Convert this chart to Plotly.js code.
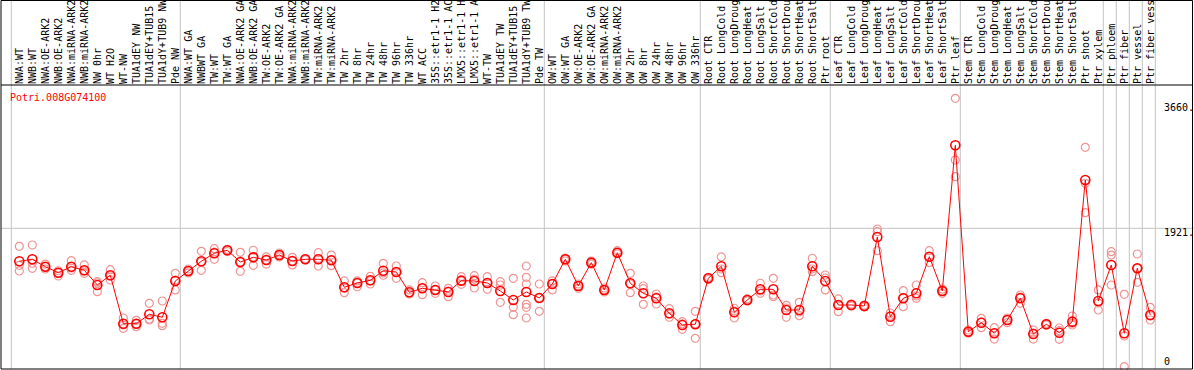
<!DOCTYPE html>
<html>
<head>
<meta charset="utf-8">
<script src="https://cdn.plot.ly/plotly-3.0.1.min.js"></script>
<style>
html,body{margin:0;padding:0;background:#fff;}
#chart{width:1194px;height:370px;}
</style>
</head>
<body>
<div id="chart"></div>
<script>
// ---- data ----
const geneName = "Potri.008G074100";
const categories = [
  "NWA:WT","NWB:WT","NWA:OE-ARK2","NWB:OE-ARK2","NWA:miRNA-ARK2","NWB:miRNA-ARK2","NW 0hr","WT H2O","WT-NW","TUA1dEY NW","TUA1dEY+TUB15","TUA1dY+TUB9 NW","Pde NW",
  "NWA:WT GA","NWBWT GA","TW:WT","TW:WT GA","NWA:OE-ARK2 GA","NWB:OE-ARK2 GA","TW:OE-ARK2","TW:OE-ARK2 GA","NWA:miRNA-ARK2","NWB:miRNA-ARK2","TW:miRNA-ARK2","TW:miRNA-ARK2",
  "TW 2hr","TW 8hr","TW 24hr","TW 48hr","TW 96hr","TW 336hr","WT ACC","35S::etr1-1 H2","35S::etr1-1 AC","LMX5::etr1-1 H","LMX5::etr1-1 A","WT-TW","TUA1dEY TW","TUA1dEY+TUB15","TUA1dY+TUB9 TW","Pde TW",
  "OW:WT","OW:WT GA","OW:OE-ARK2","OW:OE-ARK2 GA","OW:miRNA-ARK2","OW:miRNA-ARK2","OW 2hr","OW 8hr","OW 24hr","OW 48hr","OW 96hr","OW 336hr",
  "Root CTR","Root LongCold","Root LongDroug","Root LongHeat","Root LongSalt","Root ShortCold","Root ShortDrou","Root ShortHeat","Root ShortSalt","Ptr root",
  "Leaf CTR","Leaf LongCold","Leaf LongDroug","Leaf LongHeat","Leaf LongSalt","Leaf ShortCold","Leaf ShortDrou","Leaf ShortHeat","Leaf ShortSalt","Ptr leaf",
  "Stem CTR","Stem LongCold","Stem LongDroug","Stem LongHeat","Stem LongSalt","Stem ShortCold","Stem ShortDrou","Stem ShortHeat","Stem ShortSalt","Ptr shoot",
  "Ptr xylem","Ptr phloem","Ptr fiber","Ptr vessel","Ptr fiber vess"
];
const meanValues = [
  1463,1491,1388,1305,1388,1338,1134,1269,597,597,727,686,1190,
  1328,1463,1574,1616,1453,1518,1481,1550,1467,1491,1491,1477,
  1102,1162,1199,1332,1314,1033,1088,1065,1037,1194,1190,1162,1051,926,1037,954,
  1148,1491,1120,1444,1065,1582,1158,1019,949,741,579,589,
  1227,1394,755,926,1074,1074,787,787,1394,1190,
  856,856,843,1800,694,949,1019,1527,1051,3073,
  486,611,464,648,949,454,589,472,625,2591,
  912,1412,464,1366,718
];
const replicateValues = [
  [1671,1407,1328],[1689,1366,1435],[1425,1356,1388],[1332,1259,1301],[1471,1338,1370],[1412,1296,1328],[1180,1041,1162],[1346,1203,1259],[676,533,579],[644,555,593],[880,648,662],[912,602,569],[1296,1065,1203],
  [1356,1301,1328],[1602,1338,1453],[1638,1491,1592],[1630,1599,1620],[1588,1324,1453],[1616,1407,1523],[1523,1425,1481],[1578,1523,1550],[1518,1412,1467],[1491,1496,1486],[1582,1398,1500],[1550,1402,1481],
  [1190,1027,1092],[1190,1110,1162],[1255,1148,1190],[1435,1269,1301],[1398,1227,1314],[1065,1009,1023],[1166,999,1092],[1120,1019,1065],[1088,972,1051],[1249,1144,1190],[1263,1092,1217],[1249,1074,1162],[1180,1134,894],[1227,824,722],[1398,1241,1148,866,824,676],[1148,769,954],
  [1190,1065,1148],[1491,1509,1467],[1088,1120,1148],[1444,1467,1425],[1065,1092,1037],[1610,1578,1564],[1296,1027,1148],[1120,1083,866],[1009,870,967],[805,686,731],[625,519,593],[769,394,593],
  [1241,1210,1231],[1523,1305,1356],[811,676,773],[940,912,926],[1158,1019,1051],[1227,995,972],[852,686,815],[894,708,759],[1505,1319,1356],[1273,1065,1231],
  [940,763,856],[856,843,870],[843,856,829],[1911,1874,1610],[625,704,745],[1055,833,954],[1134,949,981],[1610,1444,1523],[1019,1078,1051],[3725,2869,2637],
  [509,464,482],[672,541,620],[541,384,468],[611,676,648],[995,880,967],[509,384,468],[602,579,586],[500,380,537],[704,602,579],[3045,2546,2138],
  [1065,787,884],[1596,1550,1134],[1005,0,426],[1564,1171,1366],[824,648,704]
];
// divider lines after these sample indices (-1 = before first sample)
const dividersAfter = [-1, 12, 40, 52, 62, 72, 83, 84, 85, 86, 87];
const axisTickValues = [0, 1921, 3660];
const axisTickLabels = ["0", "1921.", "3660."];

// ---- build ----
const idx = categories.map((_, i) => i);
const repX = [], repY = [];
replicateValues.forEach((arr, i) => arr.forEach(v => { repX.push(i); repY.push(v); }));

const FONT = "DejaVu Sans Mono, Liberation Mono, monospace";
const GRAY = "#c4c4c4";
const headerTop = (369 - 0.5) / 284;

const traces = [
  {
    x: repX, y: repY, type: "scatter", mode: "markers", hoverinfo: "skip",
    marker: {symbol: "circle-open", size: 8, color: "#ef9494", line: {width: 1.2, color: "#ef9494"}},
    cliponaxis: false
  },
  {
    x: idx, y: meanValues, type: "scatter", mode: "lines+markers",
    line: {color: "#ff0000", width: 1},
    marker: {symbol: "circle-open", size: 9, color: "#ff0000", line: {width: 1.6, color: "#ff0000"}},
    cliponaxis: false
  }
];

const shapes = [];
dividersAfter.forEach(d => {
  shapes.push({type: "line", xref: "x", yref: "paper", x0: d + 0.385, x1: d + 0.385, y0: 0, y1: headerTop,
    line: {color: GRAY, width: 1}, layer: "below"});
});
shapes.push({type: "line", xref: "paper", yref: "y", x0: 0, x1: 1, y0: 1921, y1: 1921,
  line: {color: GRAY, width: 1}, layer: "below"});
shapes.push({type: "line", xref: "paper", yref: "paper", x0: 0, x1: 0.99875, y0: 1, y1: 1,
  line: {color: "#000", width: 1}});
shapes.push({type: "rect", xref: "paper", yref: "paper", x0: 0, x1: 0.99875, y0: 0, y1: headerTop,
  line: {color: "#000", width: 1}, fillcolor: "rgba(0,0,0,0)"});

const annotations = [{
  text: geneName, xref: "paper", yref: "paper", x: 0.0062, y: 0.9577,
  xanchor: "left", yanchor: "middle", showarrow: false,
  font: {family: FONT, size: 10, color: "#ff0000"}
}];
axisTickValues.forEach((v, k) => {
  annotations.push({
    text: axisTickLabels[k], xref: "paper", yref: "y", x: 0.9735, y: v,
    xanchor: "left", yanchor: "middle", showarrow: false,
    yshift: v === 0 ? 5 : -4,
    font: {family: FONT, size: 10, color: "#000"}
  });
});

const layout = {
  width: 1194, height: 370,
  margin: {l: 1, r: 0, t: 85, b: 1, pad: 0},
  paper_bgcolor: "#fff", plot_bgcolor: "#fff",
  showlegend: false,
  xaxis: {
    side: "top", range: [-1.408, 90.362], tickmode: "array", tickvals: idx, ticktext: categories,
    tickangle: -90, ticks: "", showgrid: false, zeroline: false, showline: false,
    tickfont: {family: FONT, size: 10, color: "#000"}, automargin: false, fixedrange: true
  },
  yaxis: {
    range: [-32, 3910], showgrid: false, zeroline: false, showline: false,
    showticklabels: false, ticks: "", automargin: false, fixedrange: true
  },
  shapes: shapes,
  annotations: annotations
};

Plotly.newPlot("chart", traces, layout, {displayModeBar: false, staticPlot: true});
</script>
</body>
</html>
